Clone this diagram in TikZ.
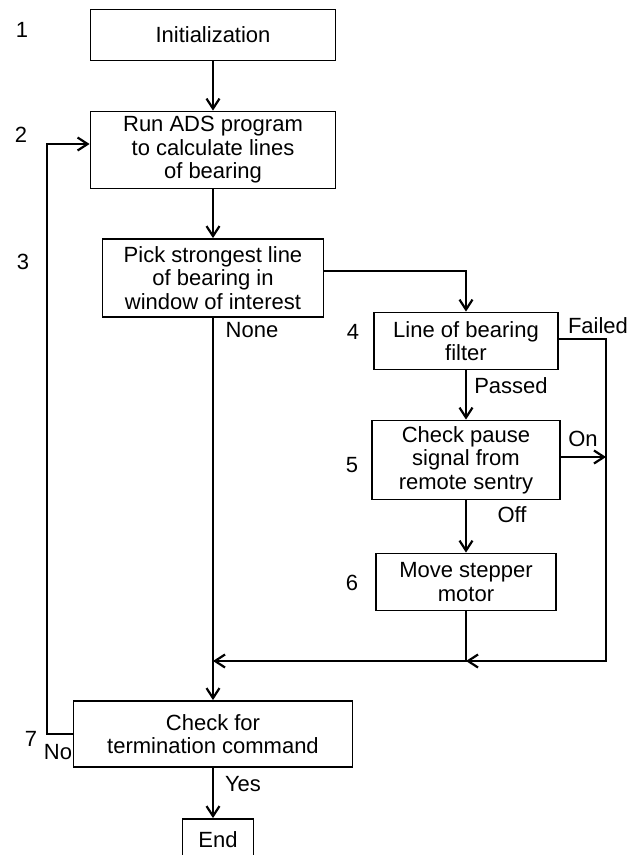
\documentclass[tikz,border=0pt]{standalone}
\usepackage{fontspec}
\setmainfont{Liberation Sans}
\usetikzlibrary{arrows.meta}

\begin{document}
\begin{tikzpicture}[
  x=1pt, y=-1pt,
  font=\fontsize{22}{23.5}\selectfont,
  box/.style={draw, line width=1.8pt, align=center, inner sep=0pt},
  num/.style={inner sep=0pt},
  lbl/.style={inner sep=0pt},
  line/.style={line width=1.8pt},
  arrow/.style={line, -{Straight Barb[length=10pt,width=13pt,line width=2.2pt]}}
]
\useasboundingbox (0,0) rectangle (630,855);

\node[box, minimum width=245pt, minimum height=51pt] (init) at (213,35) {Initialization};
\node[box, minimum width=245pt, minimum height=77pt] (run) at (213,150) {Run ADS program\\to calculate lines\\of bearing};
\node[box, minimum width=221pt, minimum height=78pt] (pick) at (213,278) {Pick strongest line\\of bearing in\\window of interest};
\node[box, minimum width=184pt, minimum height=57pt] (filter) at (466,341) {Line of bearing\\filter};
\node[box, minimum width=188pt, minimum height=79pt] (pause) at (466,460) {Check pause\\signal from\\remote sentry};
\node[box, minimum width=180pt, minimum height=57pt] (move) at (466,582) {Move stepper\\motor};
\node[box, minimum width=279pt, minimum height=66pt] (term) at (213,734) {Check for\\termination command};
\node[box, minimum width=71pt, minimum height=42pt] (endbox) at (218,840) {End};

% step numbers
\node[num] (n1) at (22,30) {1};
\node[num] (n2) at (21,135) {2};
\node[num] (n3) at (23,262) {3};
\node[num] (n4) at (353,332) {4};
\node[num] (n5) at (352,465) {5};
\node[num] (n6) at (352,583) {6};
\node[num] (n7) at (31,739) {7};

\coordinate (rail) at (606,400);
\coordinate (railend) at (606,661);
\coordinate (merge) at (213,661);
\coordinate (loopleft) at (47,400);

\draw[arrow] (init) -- (run);
\draw[arrow] (run) -- (pick);
\draw[arrow] ([yshift=7pt]pick.east) -| (filter.north);
\draw[arrow] (pick.south) -- (term.north);
\draw[arrow] (filter) -- (pause);
\draw[arrow] (pause) -- (move);
\draw[arrow] ([yshift=2pt]filter.east) -| (railend) -- (move.south |- railend);
\draw[arrow] ([yshift=3pt]pause.east) -- ([yshift=3pt]pause.east -| rail);
\draw[arrow] (move.south) |- (merge);
\draw[arrow] (term.west) -| (loopleft) |- ([yshift=6pt]run.west);
\draw[arrow] (term.south) -- (term.south |- endbox.north);

% branch labels
\node[lbl] (none) at (252,330) {None};
\node[lbl] (failed) at (598,326) {Failed};
\node[lbl] (passed) at (511,386) {Passed};
\node[lbl] (on) at (583,439) {On};
\node[lbl] (off) at (512,515) {Off};
\node[lbl] (no) at (58,752) {No};
\node[lbl] (yes) at (243,784) {Yes};
\end{tikzpicture}
\end{document}
